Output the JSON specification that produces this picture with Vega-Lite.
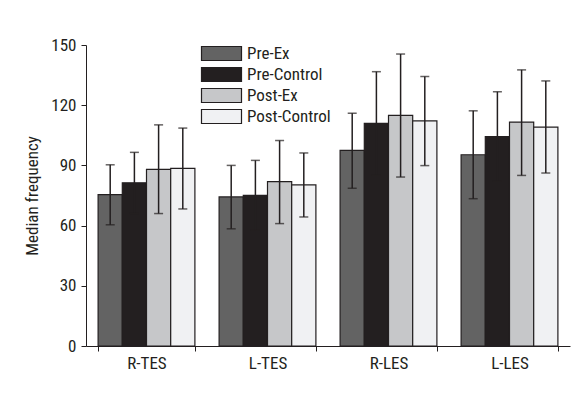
{
  "$schema": "https://vega.github.io/schema/vega-lite/v6.json",
  "width": 484,
  "height": 301,
  "autosize": {"type": "none"},
  "padding": {"left": 86, "top": 45, "right": 2, "bottom": 52},
  "background": "white",
  "config": {
    "font": "Roboto Condensed",
    "view": {"stroke": null},
    "axis": {
      "domainColor": "#231f20",
      "domainWidth": 1,
      "tickColor": "#231f20",
      "tickWidth": 1,
      "grid": false,
      "labelColor": "#231f20",
      "titleColor": "#231f20",
      "labelFont": "Roboto Condensed",
      "titleFont": "Roboto Condensed"
    },
    "legend": {"labelFont": "Roboto Condensed"}
  },
  "data": {
    "values": [
      {"region": "R-TES", "series": "Pre-Ex", "value": 75.4, "lo": 60.4, "hi": 90.3},
      {"region": "R-TES", "series": "Pre-Control", "value": 81.3, "lo": 66.1, "hi": 96.5},
      {"region": "R-TES", "series": "Post-Ex", "value": 88.0, "lo": 66.0, "hi": 110.2},
      {"region": "R-TES", "series": "Post-Control", "value": 88.5, "lo": 68.3, "hi": 108.6},
      {"region": "L-TES", "series": "Pre-Ex", "value": 74.3, "lo": 58.4, "hi": 90.0},
      {"region": "L-TES", "series": "Pre-Control", "value": 75.1, "lo": 57.7, "hi": 92.5},
      {"region": "L-TES", "series": "Post-Ex", "value": 81.9, "lo": 61.0, "hi": 102.4},
      {"region": "L-TES", "series": "Post-Control", "value": 80.3, "lo": 64.3, "hi": 96.2},
      {"region": "R-LES", "series": "Pre-Ex", "value": 97.5, "lo": 78.6, "hi": 116.0},
      {"region": "R-LES", "series": "Pre-Control", "value": 110.9, "lo": 85.1, "hi": 136.7},
      {"region": "R-LES", "series": "Post-Ex", "value": 114.9, "lo": 84.2, "hi": 145.5},
      {"region": "R-LES", "series": "Post-Control", "value": 112.2, "lo": 89.9, "hi": 134.3},
      {"region": "L-LES", "series": "Pre-Ex", "value": 95.3, "lo": 73.4, "hi": 117.2},
      {"region": "L-LES", "series": "Pre-Control", "value": 104.4, "lo": 82.1, "hi": 126.7},
      {"region": "L-LES", "series": "Post-Ex", "value": 111.6, "lo": 85.0, "hi": 137.6},
      {"region": "L-LES", "series": "Post-Control", "value": 109.1, "lo": 86.2, "hi": 132.1}
    ]
  },
  "encoding": {
    "x": {
      "field": "region",
      "type": "nominal",
      "sort": ["R-TES", "L-TES", "R-LES", "L-LES"],
      "scale": {"paddingInner": 0.2, "paddingOuter": 0.1},
      "axis": {
        "title": null,
        "tickBand": "extent",
        "labelAngle": 0,
        "labelFontSize": 17,
        "tickSize": 5,
        "labelPadding": 4
      }
    },
    "xOffset": {
      "field": "series",
      "type": "nominal",
      "sort": ["Pre-Ex", "Pre-Control", "Post-Ex", "Post-Control"],
      "scale": {"paddingInner": 0, "paddingOuter": 0}
    }
  },
  "layer": [
    {
      "mark": {"type": "bar", "stroke": "#231f20", "strokeWidth": 1.2},
      "encoding": {
        "y": {
          "field": "value",
          "type": "quantitative",
          "title": "Median frequency",
          "scale": {"domain": [0, 150], "nice": false},
          "axis": {
            "titleFontSize": 17,
            "titleFontWeight": "normal",
            "titlePadding": 9,
            "values": [0, 15, 30, 45, 60, 75, 90, 105, 120, 135, 150],
            "labelExpr": "datum.value % 30 == 0 ? datum.label : ''",
            "labelFontSize": 17,
            "tickSize": 5,
            "labelPadding": 5
          }
        },
        "color": {
          "field": "series",
          "type": "nominal",
          "sort": ["Pre-Ex", "Pre-Control", "Post-Ex", "Post-Control"],
          "scale": {
            "domain": ["Pre-Ex", "Pre-Control", "Post-Ex", "Post-Control"],
            "range": ["#636363", "#231f20", "#c6c7c9", "#f0f1f3"]
          },
          "legend": {
            "title": null,
            "orient": "none",
            "legendX": 127,
            "legendY": 0,
            "symbolType": "M-2.857,-1H2.857V1H-2.857Z",
            "symbolSize": 196,
            "symbolStrokeColor": "#231f20",
            "symbolStrokeWidth": 1.2,
            "labelFontSize": 17,
            "labelColor": "#231f20",
            "labelOffset": 17,
            "rowPadding": 2
          }
        }
      }
    },
    {
      "mark": {"type": "rule", "color": "#231f20", "strokeWidth": 1.5},
      "encoding": {
        "y": {"field": "lo", "type": "quantitative", "title": "Median frequency"},
        "y2": {"field": "hi"}
      }
    },
    {
      "mark": {"type": "tick", "color": "#231f20", "thickness": 1.5, "size": 9},
      "encoding": {
        "y": {"field": "hi", "type": "quantitative", "title": "Median frequency"}
      }
    },
    {
      "mark": {"type": "tick", "color": "#231f20", "thickness": 1.5, "size": 9},
      "encoding": {
        "y": {"field": "lo", "type": "quantitative", "title": "Median frequency"}
      }
    }
  ]
}
